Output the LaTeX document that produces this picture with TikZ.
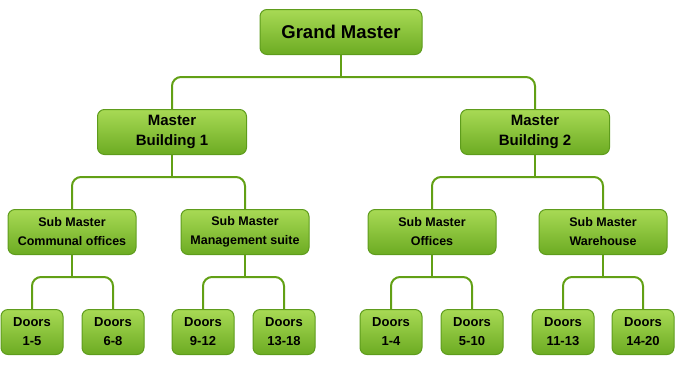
\documentclass[tikz,border=0pt]{standalone}
\usepackage{fontspec}
\setmainfont{Liberation Sans}
\definecolor{boxtop}{HTML}{A8DA55}
\definecolor{boxbot}{HTML}{6CAB22}
\definecolor{boxline}{HTML}{5E9C1C}
\definecolor{linkcol}{HTML}{62A015}
\begin{document}
\begin{tikzpicture}[x=1pt, y=-1pt,
    box/.style={draw=boxline, line width=1pt, rounded corners=7pt,
        top color=boxtop, bottom color=boxbot, minimum height=45pt,
        inner sep=0pt, align=center, font=\bfseries},
    topbox/.style={box, minimum width=162pt, font=\bfseries\fontsize{18.5}{20}\selectfont},
    mbox/.style={box, minimum width=149pt, font=\bfseries\fontsize{15}{20}\selectfont},
    subbox/.style={box, minimum width=128pt, font=\bfseries\fontsize{12.5}{19}\selectfont},
    doorbox/.style={box, minimum width=62pt, font=\bfseries\fontsize{13}{19}\selectfont},
    link/.style={draw=linkcol, line width=2pt, rounded corners=9pt}]
    \useasboundingbox (0,0) rectangle (676,370);

    % Grand Master
    \node[topbox] (gm) at (341,32) {Grand Master};

    % Master
    \node[mbox] (mb1) at (172,132) {Master\\Building 1};
    \node[mbox] (mb2) at (535,132) {Master\\Building 2};

    % Sub Master
    \node[subbox] (sm1) at (72,232) {Sub Master\\Communal offices};
    \node[subbox] (sm2) at (245,232) {Sub Master\\Management suite};
    \node[subbox] (sm3) at (432,232) {Sub Master\\Offices};
    \node[subbox] (sm4) at (603,232) {Sub Master\\Warehouse};

    % Doors
    \node[doorbox] (d1) at (32,332) {Doors\\1-5};
    \node[doorbox] (d2) at (113,332) {Doors\\6-8};
    \node[doorbox] (d3) at (203,332) {Doors\\9-12};
    \node[doorbox] (d4) at (284,332) {Doors\\13-18};
    \node[doorbox] (d5) at (391,332) {Doors\\1-4};
    \node[doorbox] (d6) at (472,332) {Doors\\5-10};
    \node[doorbox] (d7) at (563,332) {Doors\\11-13};
    \node[doorbox] (d8) at (643,332) {Doors\\14-20};

    % Verbindungen
    \coordinate (bus0) at (341,77);
    \coordinate (bus1) at (172,177);
    \coordinate (bus2) at (535,177);
    \coordinate (bus3) at (72,277);
    \coordinate (bus4) at (245,277);
    \coordinate (bus5) at (432,277);
    \coordinate (bus6) at (603,277);
    \draw[link] (gm.south) -- (bus0);
    \draw[link] (mb1.north) |- (bus0) -| (mb2.north);
    \draw[link] (mb1.south) -- (bus1);
    \draw[link] (sm1.north) |- (bus1) -| (sm2.north);
    \draw[link] (mb2.south) -- (bus2);
    \draw[link] (sm3.north) |- (bus2) -| (sm4.north);
    \draw[link] (sm1.south) -- (bus3);
    \draw[link] (d1.north) |- (bus3) -| (d2.north);
    \draw[link] (sm2.south) -- (bus4);
    \draw[link] (d3.north) |- (bus4) -| (d4.north);
    \draw[link] (sm3.south) -- (bus5);
    \draw[link] (d5.north) |- (bus5) -| (d6.north);
    \draw[link] (sm4.south) -- (bus6);
    \draw[link] (d7.north) |- (bus6) -| (d8.north);
\end{tikzpicture}
\end{document}
